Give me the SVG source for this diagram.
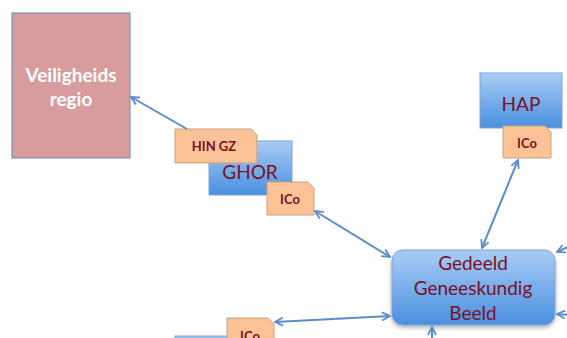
<svg xmlns="http://www.w3.org/2000/svg" width="567" height="338" viewBox="0 0 567 338">
<defs>
<linearGradient id="blue" x1="0" y1="0" x2="0" y2="1">
<stop offset="0" stop-color="#a9cdf4"/>
<stop offset="1" stop-color="#4a8fe0"/>
</linearGradient>
<filter id="sh" x="-10%" y="-10%" width="130%" height="140%">
<feGaussianBlur in="SourceAlpha" stdDeviation="2"/>
<feOffset dx="0" dy="2" result="b"/>
<feComponentTransfer><feFuncA type="linear" slope="0.35"/></feComponentTransfer>
<feMerge><feMergeNode/><feMergeNode in="SourceGraphic"/></feMerge>
</filter>
<marker id="ah" viewBox="0 0 10 10" refX="9" refY="5" markerWidth="10" markerHeight="10" markerUnits="userSpaceOnUse" orient="auto-start-reverse">
<path d="M1,1 L9,5 L1,9" fill="none" stroke="#5b8ccb" stroke-width="1.8"/>
</marker>
<style>
.bl{fill:url(#blue);stroke:#7ea3d2;stroke-width:1}
.or{fill:#fbc296;stroke:#c4a386;stroke-width:1}
.t{font-family:Lato,"Open Sans","Liberation Sans",sans-serif;fill:#7a1024;text-anchor:middle}
.s{font-size:13px;font-weight:bold}
.m{font-size:19px}
.c{fill:none;stroke:#5b8ccb;stroke-width:2}
</style>
</defs>
<g id="veiligheidsregio">
<rect x="12" y="13" width="118" height="145" fill="#d99c9e" stroke="#7a95b8" stroke-width="1.2"/>
<text class="t" x="71" y="82" style="font-size:19px;font-weight:bold;fill:#ffffff">Veiligheids</text>
<text class="t" x="71" y="106" style="font-size:19px;font-weight:bold;fill:#ffffff">regio</text>
</g>
<g id="ghor">
<rect class="bl" x="209" y="141" width="83" height="54"/>
<text class="t m" x="250" y="179">GHOR</text>
</g>
<g id="hin-gz">
<path class="or" d="M175,129 H251 L257,135 V163 H175 Z"/>
<text class="t s" x="214" y="151">HIN GZ</text>
</g>
<g id="ghor-ico">
<path class="or" d="M267,182 H308 L314,188 V215 H267 Z"/>
<text class="t s" x="290" y="204">ICo</text>
</g>
<g id="hap">
<rect class="bl" x="480" y="73" width="82" height="55"/>
<text class="t m" x="521" y="111">HAP</text>
</g>
<g id="hap-ico">
<path class="or" d="M503,126 H545 L551,132 V158 H503 Z"/>
<text class="t s" x="527" y="148">ICo</text>
</g>
<g id="ggb">
<rect class="bl" x="392" y="250" width="163" height="75" rx="11" filter="url(#sh)"/>
<text class="t m" x="473" y="270">Gedeeld</text>
<text class="t m" x="473" y="295">Geneeskundig</text>
<text class="t m" x="473" y="320">Beeld</text>
</g>
<g id="bottom-node">
<rect class="bl" x="175" y="336" width="60" height="10"/>
</g>
<g id="bottom-ico">
<path class="or" d="M227,318 H268 L274,324 V350 H227 Z"/>
<text class="t s" x="250" y="341">ICo</text>
</g>
<g id="connectors">
<line class="c" x1="187" y1="129" x2="131" y2="97" marker-end="url(#ah)"/>
<line class="c" x1="315" y1="211" x2="390" y2="257" marker-start="url(#ah)" marker-end="url(#ah)"/>
<line class="c" x1="518" y1="160" x2="482" y2="248" marker-start="url(#ah)" marker-end="url(#ah)"/>
<line class="c" x1="275" y1="322" x2="390" y2="316" marker-start="url(#ah)" marker-end="url(#ah)"/>
<line class="c" x1="570" y1="246" x2="557" y2="252" marker-end="url(#ah)"/>
<line class="c" x1="570" y1="315" x2="557" y2="314" marker-end="url(#ah)"/>
<line class="c" x1="432" y1="342" x2="432" y2="327" marker-end="url(#ah)"/>
</g>
</svg>
